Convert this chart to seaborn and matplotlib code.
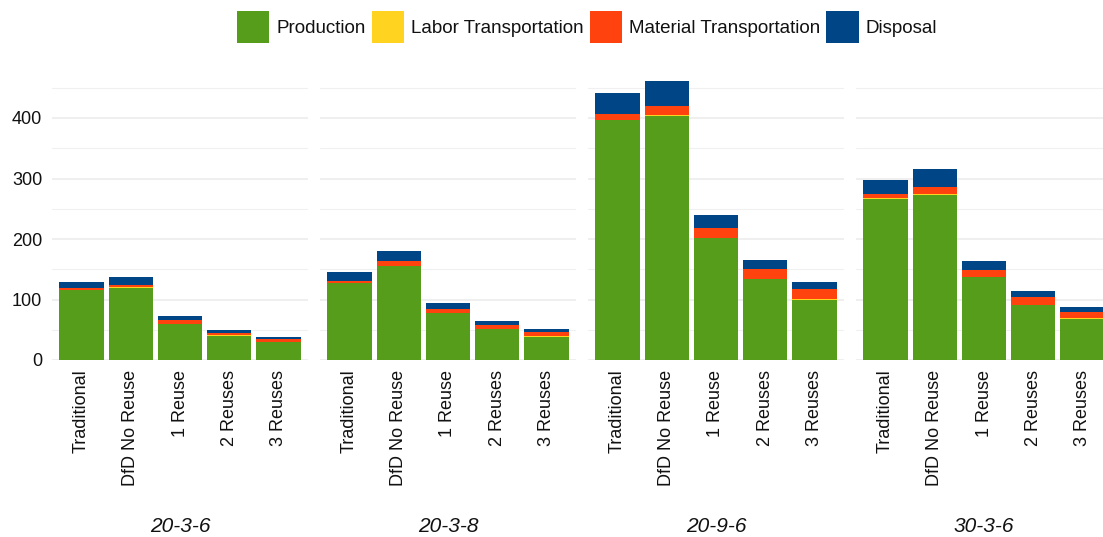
import matplotlib
matplotlib.use("Agg")
import matplotlib.pyplot as plt
from matplotlib.patches import Patch
from matplotlib.ticker import MultipleLocator
import numpy as np
import pandas as pd
import seaborn as sns

# Design schemes (facets) and design options (bars within each facet)
schemes = ["20-3-6", "20-3-8", "20-9-6", "30-3-6"]
options = ["Traditional", "DfD No Reuse", "1 Reuse", "2 Reuses", "3 Reuses"]
components = ["Production", "Labor Transportation", "Material Transportation", "Disposal"]

# Impact per component, one list per scheme, in the order of `options`
production = {
    "20-3-6": [115.0, 119.5, 59.5, 40.0, 30.0],
    "20-3-8": [126.5, 155.0, 77.0, 50.5, 38.0],
    "20-9-6": [396.0, 404.0, 201.5, 134.0, 100.0],
    "30-3-6": [266.0, 273.5, 136.5, 90.5, 67.5],
}
labor_transport = {
    "20-3-6": [0.5, 0.5, 0.5, 0.5, 0.5],
    "20-3-8": [0.5, 0.5, 0.5, 0.5, 1.5],
    "20-9-6": [1.0, 1.0, 0.5, 0.5, 0.5],
    "30-3-6": [1.5, 1.0, 0.5, 0.5, 2.0],
}
material_transport = {
    "20-3-6": [3.5, 4.0, 6.0, 4.0, 4.0],
    "20-3-8": [4.0, 7.5, 7.5, 7.5, 7.0],
    "20-9-6": [10.0, 15.0, 16.0, 16.0, 16.5],
    "30-3-6": [7.0, 11.0, 12.0, 12.5, 10.5],
}
disposal = {
    "20-3-6": [10.5, 14.0, 6.0, 5.0, 3.5],
    "20-3-8": [14.0, 17.5, 9.0, 5.5, 4.0],
    "20-9-6": [34.0, 41.0, 21.0, 14.5, 11.5],
    "30-3-6": [23.5, 29.5, 14.0, 10.5, 7.5],
}

palette = {
    "Production": "#579D1C",
    "Labor Transportation": "#FFD320",
    "Material Transportation": "#FF420E",
    "Disposal": "#004586",
}

# Long table with stacked (cumulative) heights
rows = []
for s in schemes:
    for i, opt in enumerate(options):
        vals = [production[s][i], labor_transport[s][i],
                material_transport[s][i], disposal[s][i]]
        cum = np.cumsum(vals)
        for comp, v, c in zip(components, vals, cum):
            rows.append({"scheme": s, "option": opt, "component": comp,
                         "value": v, "top": c})
df = pd.DataFrame(rows)

sns.set_theme(style="white")
plt.rcParams["font.family"] = ["Liberation Sans", "DejaVu Sans"]

W, H = 1103, 537
fig = plt.figure(figsize=(W / 100, H / 100), dpi=100)

panel_w = 256
gap = 12
left0 = 52
y0_px = 360
ymax = 475
px_per_unit = 0.605
top_px = y0_px - ymax * px_per_unit

axes = []
for k, s in enumerate(schemes):
    lx = left0 + k * (panel_w + gap)
    ax = fig.add_axes([lx / W, 1 - y0_px / H, panel_w / W, (y0_px - top_px) / H])
    axes.append(ax)
    sub = df[df["scheme"] == s]
    # draw stacked bars from the top segment downward
    for comp in reversed(components):
        part = sub[sub["component"] == comp]
        sns.barplot(data=part, x="option", y="top", order=options,
                    color=palette[comp], saturation=1, width=0.9,
                    errorbar=None, linewidth=0, ax=ax, zorder=3)
    ax.set_xlim(-0.6, 4.6)
    ax.set_ylim(0, ymax)
    ax.yaxis.set_major_locator(MultipleLocator(100))
    ax.yaxis.set_minor_locator(MultipleLocator(50))
    ax.grid(axis="y", which="major", color="#EBEBEB", linewidth=1.1, zorder=0)
    ax.grid(axis="y", which="minor", color="#F0F0F0", linewidth=0.8, zorder=0)
    ax.grid(axis="x", visible=False)
    ax.set_axisbelow(True)
    for sp in ax.spines.values():
        sp.set_visible(False)
    ax.set_xlabel("")
    ax.set_ylabel("")
    ax.tick_params(axis="both", which="both", length=0, labelsize=13,
                   colors="#111111")
    ax.tick_params(axis="y", pad=7)
    ax.tick_params(axis="x", pad=7)
    plt.setp(ax.get_xticklabels(), rotation=90, va="top", ha="center")
    if k > 0:
        ax.tick_params(axis="y", labelleft=False)
    fig.text((lx + panel_w / 2) / W, 1 - 527 / H, s, ha="center", va="center",
             fontsize=15, style="italic", color="#111111")

handles = [Patch(facecolor=palette[c], edgecolor="none", label=c) for c in components]
fig.legend(handles=handles, loc="center", bbox_to_anchor=(587 / W, 1 - 27 / H),
           ncol=4, frameon=False, fontsize=13.5, handlelength=1.72,
           handleheight=2.3, handletextpad=0.38, columnspacing=0.32,
           borderaxespad=0, borderpad=0)
for t in fig.legends[0].get_texts():
    t.set_color("#111111")

fig.savefig("out.png", dpi=100, facecolor="white")
